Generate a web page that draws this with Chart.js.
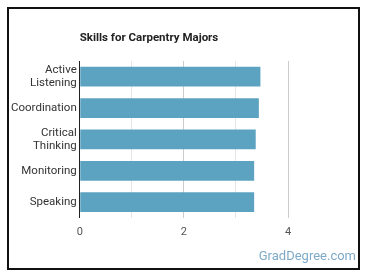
<!DOCTYPE html>
<html>
<head>
<meta charset="utf-8">
<script src="https://cdn.jsdelivr.net/npm/chart.js@4"></script>
<style>
    html, body { margin: 0; padding: 0; background: #fff; }
    #wrap { position: relative; width: 370px; height: 278px; }
    #frame {
        position: absolute; left: 7px; top: 7px; width: 349px; height: 259px;
        border: 2px solid #111;
    }
    #skills-chart { position: absolute; left: 0; top: 0; }
</style>
</head>
<body>
<div id="wrap">
    <div id="frame"></div>
    <canvas id="skills-chart" width="370" height="278"></canvas>
</div>
<script>
// Chart values
const skills = [['Active', 'Listening'], 'Coordination', ['Critical', 'Thinking'], 'Monitoring', 'Speaking'];
const scores = [3.47, 3.44, 3.38, 3.35, 3.35];
const xTicks = [0, 2, 4];

const CHART_TITLE = 'Skills for Carpentry Majors';
const WATERMARK = 'GradDegree.com';

// Title sits over the plot area's left edge, watermark in the bottom right
const textPlugin = {
    id: 'textPlugin',
    afterDraw(chart) {
        const { ctx, chartArea } = chart;
        ctx.save();
        ctx.fillStyle = '#222';
        ctx.font = "bold 11.5px Roboto, sans-serif";
        ctx.textAlign = 'left';
        ctx.textBaseline = 'alphabetic';
        ctx.fillText(CHART_TITLE, chartArea.left, 41);

        ctx.fillStyle = '#7eaac8';
        ctx.font = "13px Roboto, sans-serif";
        ctx.textAlign = 'right';
        ctx.fillText(WATERMARK, 356, 260);
        ctx.restore();
    }
};

new Chart(document.getElementById('skills-chart'), {
    type: 'bar',
    data: {
        labels: skills,
        datasets: [{
            label: 'Skill level',
            data: scores,
            backgroundColor: '#5ca3c1',
            borderWidth: 0,
            barPercentage: 0.7,
            categoryPercentage: 0.9
        }]
    },
    options: {
        indexAxis: 'y',
        responsive: false,
        animation: false,
        layout: { padding: { top: 61, right: 82, bottom: 31, left: 8 } },
        plugins: {
            legend: { display: false },
            tooltip: { enabled: false }
        },
        scales: {
            x: {
                min: 0,
                max: 4,
                border: { display: false },
                grid: {
                    drawTicks: false,
                    color: ctx => (ctx.tick && ctx.tick.value % 2 === 0) ? '#cccccc' : '#e6e6e6'
                },
                ticks: {
                    stepSize: 1,
                    padding: 8,
                    color: '#555',
                    font: { family: 'Roboto', size: 11 },
                    callback: v => xTicks.includes(v) ? v : ''
                }
            },
            y: {
                border: { display: true, color: '#222', width: 1 },
                grid: { display: false, drawTicks: false },
                ticks: {
                    padding: 3,
                    color: '#333',
                    font: { family: 'Roboto', size: 11.5, lineHeight: 1.15 }
                }
            }
        }
    },
    plugins: [textPlugin]
});
</script>
</body>
</html>
